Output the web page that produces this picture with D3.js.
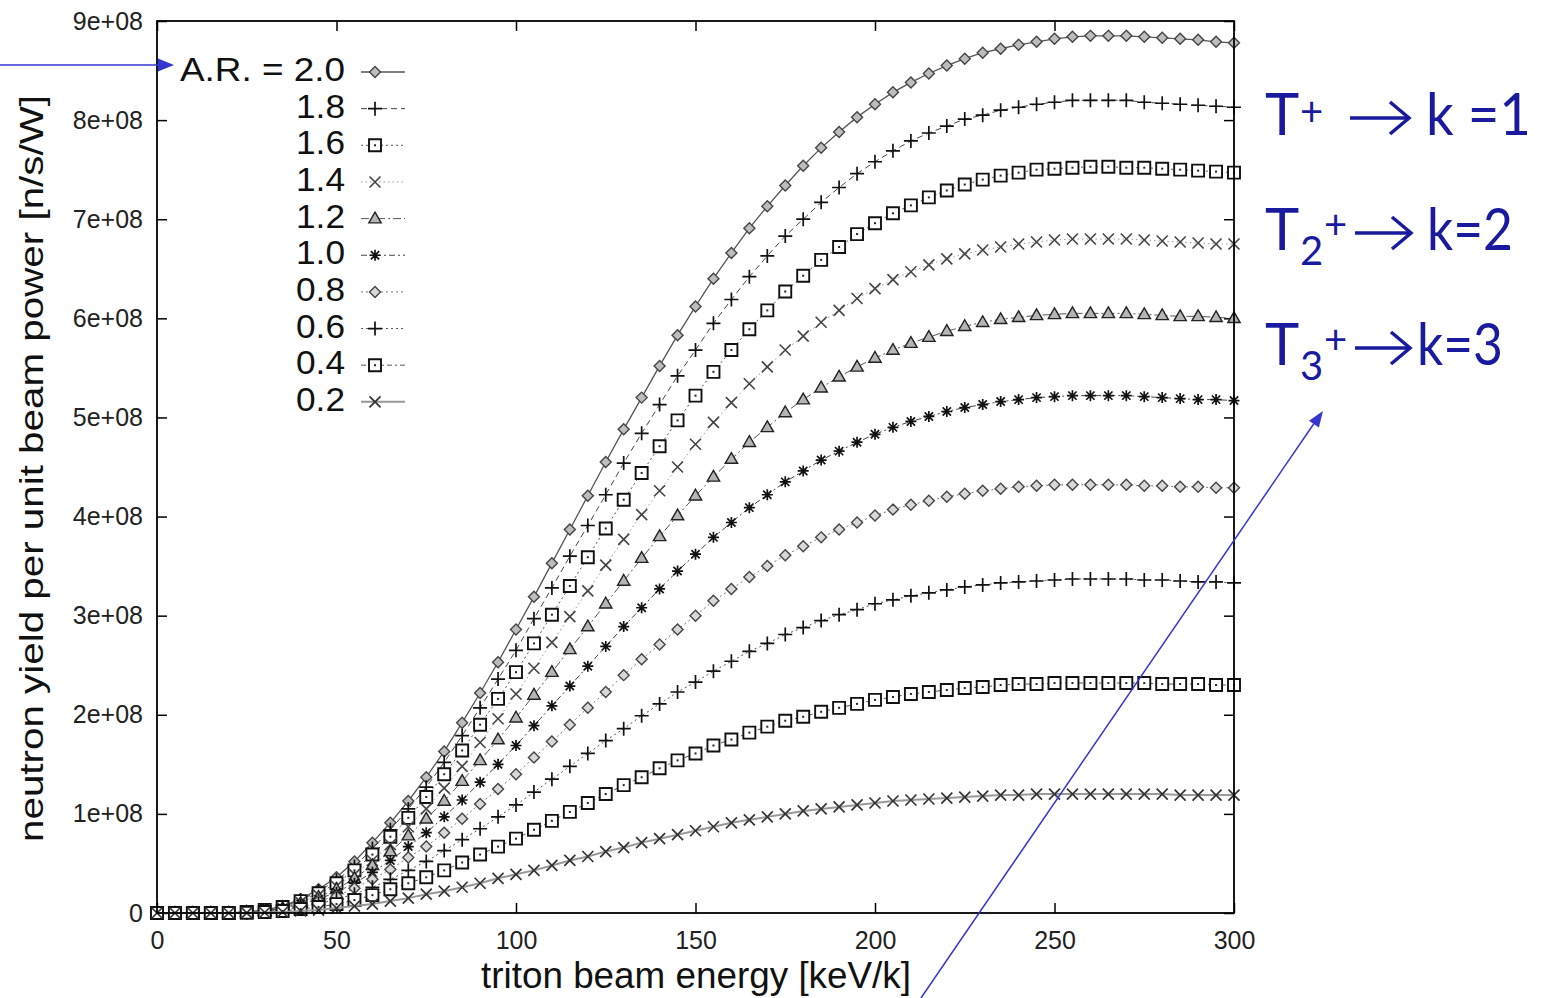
<!DOCTYPE html>
<html><head><meta charset="utf-8">
<script src="https://cdn.jsdelivr.net/npm/d3@7"></script>
<style>body{margin:0;background:#fff} svg{display:block}</style>
</head><body><svg id="c" width="1542" height="998"></svg>
<script>
// ---------- data (values in units of 1e+08 n/s/W) ----------
const energy = [0,5,10,15,20,25,30,35,40,45,50,55,60,65,70,75,80,85,90,95,100,105,110,115,120,125,130,135,140,145,150,155,160,165,170,175,180,185,190,195,200,205,210,215,220,225,230,235,240,245,250,255,260,265,270,275,280,285,290,295,300];
const y20 = [0,0,0,0,0,0.01,0.03,0.07,0.14,0.24,0.36,0.52,0.71,0.91,1.13,1.37,1.63,1.92,2.22,2.53,2.86,3.19,3.53,3.87,4.21,4.55,4.88,5.20,5.52,5.83,6.12,6.40,6.66,6.91,7.13,7.34,7.54,7.72,7.88,8.03,8.16,8.28,8.38,8.47,8.55,8.62,8.68,8.72,8.76,8.79,8.82,8.84,8.85,8.85,8.85,8.84,8.83,8.82,8.81,8.79,8.78];
const y18 = [0,0,0,0,0,0.01,0.03,0.06,0.13,0.22,0.33,0.47,0.65,0.84,1.05,1.27,1.52,1.79,2.07,2.36,2.65,2.97,3.28,3.60,3.91,4.22,4.54,4.84,5.13,5.42,5.68,5.95,6.19,6.42,6.63,6.83,7.00,7.17,7.32,7.46,7.58,7.69,7.79,7.87,7.94,8.01,8.05,8.10,8.13,8.16,8.18,8.20,8.20,8.20,8.20,8.18,8.17,8.16,8.15,8.14,8.13];
const y16 = [0,0,0,0,0,0.01,0.03,0.06,0.12,0.20,0.30,0.43,0.59,0.77,0.96,1.17,1.40,1.64,1.90,2.16,2.43,2.72,3.01,3.30,3.59,3.88,4.17,4.44,4.71,4.97,5.22,5.46,5.68,5.89,6.08,6.27,6.43,6.59,6.72,6.85,6.96,7.06,7.14,7.22,7.29,7.35,7.40,7.44,7.47,7.50,7.51,7.52,7.53,7.53,7.52,7.52,7.51,7.50,7.49,7.48,7.47];
const y14 = [0,0,0,0,0,0.01,0.03,0.05,0.11,0.18,0.27,0.39,0.53,0.69,0.87,1.05,1.26,1.48,1.72,1.96,2.21,2.47,2.73,2.99,3.25,3.51,3.77,4.02,4.26,4.50,4.73,4.95,5.15,5.34,5.51,5.68,5.82,5.96,6.08,6.20,6.30,6.39,6.47,6.54,6.60,6.65,6.69,6.72,6.75,6.77,6.79,6.80,6.80,6.80,6.80,6.79,6.78,6.77,6.76,6.75,6.75];
const y12 = [0,0,0,0,0,0.01,0.02,0.05,0.10,0.16,0.24,0.35,0.48,0.62,0.78,0.95,1.13,1.33,1.54,1.75,1.97,2.20,2.43,2.66,2.89,3.12,3.35,3.58,3.80,4.01,4.21,4.40,4.58,4.75,4.90,5.05,5.18,5.30,5.41,5.51,5.60,5.68,5.75,5.81,5.87,5.92,5.96,5.99,6.01,6.03,6.04,6.05,6.05,6.05,6.05,6.04,6.03,6.02,6.02,6.01,6.00];
const y10 = [0,0,0,0,0,0.005,0.02,0.04,0.09,0.14,0.21,0.30,0.41,0.53,0.67,0.81,0.97,1.14,1.32,1.50,1.69,1.89,2.09,2.29,2.49,2.69,2.89,3.08,3.27,3.45,3.62,3.79,3.94,4.09,4.22,4.35,4.46,4.57,4.66,4.75,4.83,4.90,4.96,5.01,5.06,5.10,5.13,5.16,5.18,5.20,5.21,5.22,5.22,5.22,5.22,5.21,5.20,5.19,5.18,5.18,5.17];
const y08 = [0,0,0,0,0,0.004,0.02,0.03,0.07,0.12,0.17,0.25,0.34,0.44,0.56,0.67,0.81,0.95,1.10,1.25,1.40,1.57,1.73,1.90,2.07,2.23,2.40,2.56,2.71,2.86,3.00,3.15,3.27,3.39,3.50,3.61,3.70,3.79,3.87,3.94,4.01,4.07,4.12,4.16,4.20,4.23,4.26,4.28,4.30,4.31,4.32,4.32,4.32,4.32,4.32,4.31,4.31,4.30,4.30,4.29,4.29];
const y06 = [0,0,0,0,0,0.003,0.01,0.03,0.06,0.09,0.14,0.19,0.26,0.34,0.43,0.52,0.63,0.74,0.85,0.97,1.09,1.22,1.35,1.48,1.61,1.74,1.86,1.99,2.11,2.23,2.33,2.44,2.54,2.64,2.72,2.81,2.88,2.95,3.01,3.06,3.12,3.16,3.20,3.23,3.26,3.29,3.31,3.33,3.34,3.35,3.36,3.37,3.37,3.37,3.37,3.36,3.36,3.35,3.34,3.34,3.33];
const y04 = [0,0,0,0,0,0.002,0.01,0.02,0.04,0.06,0.09,0.13,0.18,0.24,0.30,0.36,0.43,0.51,0.59,0.67,0.75,0.84,0.93,1.02,1.11,1.20,1.29,1.37,1.46,1.54,1.61,1.69,1.75,1.82,1.88,1.94,1.98,2.03,2.07,2.11,2.15,2.18,2.21,2.23,2.25,2.27,2.28,2.30,2.31,2.31,2.32,2.32,2.32,2.32,2.32,2.32,2.31,2.31,2.31,2.30,2.30];
const y02 = [0,0,0,0,0,0.001,0.005,0.01,0.02,0.03,0.05,0.07,0.09,0.12,0.15,0.19,0.22,0.26,0.30,0.35,0.39,0.43,0.48,0.53,0.57,0.62,0.66,0.71,0.75,0.79,0.83,0.87,0.91,0.94,0.97,1.00,1.03,1.05,1.07,1.09,1.11,1.13,1.14,1.15,1.16,1.17,1.18,1.19,1.19,1.20,1.20,1.20,1.20,1.20,1.20,1.20,1.20,1.19,1.19,1.19,1.19];
const arLabels = ["A.R. = 2.0","1.8","1.6","1.4","1.2","1.0","0.8","0.6","0.4","0.2"];
const yTicks = [0,1,2,3,4,5,6,7,8,9];
const xTicks = [0,50,100,150,200,250,300];
const xTitle = "triton beam energy [keV/k]";
const yTitle = "neutron yield per unit beam power [n/s/W]";

// ---------- setup ----------
const svg = d3.select("#c");
const x = d3.scaleLinear().domain([0,300]).range([157,1234]);
const y = d3.scaleLinear().domain([0,9]).range([913,21]);
const FONT = "'Liberation Sans', Arial, Helvetica, sans-serif";

const seriesData = [y20,y18,y16,y14,y12,y10,y08,y06,y04,y02];
const styles = [
  {m:"diamond", s:5.5, fill:"#bdbdbd", stroke:"#444", mw:1.4, line:"#555", dash:null, lw:1.3},
  {m:"plus", s:7, fill:"none", stroke:"#111", mw:1.7, line:"#444", dash:"6,4", lw:1},
  {m:"square", s:6, fill:"#fff", stroke:"#111", mw:1.9, line:"#555", dash:"2,3", lw:1},
  {m:"times", s:5.5, fill:"none", stroke:"#444", mw:1.6, line:"#999", dash:"1.5,3", lw:1},
  {m:"triangle", s:6.5, fill:"#b5b5b5", stroke:"#222", mw:1.4, line:"#555", dash:"8,3,2,3", lw:1},
  {m:"asterisk", s:5.5, fill:"none", stroke:"#111", mw:1.7, line:"#444", dash:"6,3,2,3", lw:1},
  {m:"diamond", s:5.5, fill:"#d8d8d8", stroke:"#444", mw:1.4, line:"#777", dash:"2,3", lw:1},
  {m:"plus", s:7, fill:"none", stroke:"#111", mw:1.7, line:"#555", dash:"2,3", lw:1},
  {m:"square", s:6, fill:"#fff", stroke:"#111", mw:1.9, line:"#555", dash:"5,3,2,3", lw:1},
  {m:"times", s:5.5, fill:"none", stroke:"#333", mw:1.7, line:"#999", dash:null, lw:2}
];

function markerPath(m, s){
  switch(m){
    case "diamond": return `M0,${-s}L${s},0L0,${s}L${-s},0Z`;
    case "plus": return `M${-s},0H${s}M0,${-s}V${s}`;
    case "square": return `M${-s},${-s}H${s}V${s}H${-s}Z`;
    case "times": return `M${-s},${-s}L${s},${s}M${-s},${s}L${s},${-s}`;
    case "triangle": return `M0,${-s}L${s*0.95},${s*0.65}L${-s*0.95},${s*0.65}Z`;
    case "asterisk": return `M${-s},0H${s}M0,${-s}V${s}M${-s*0.75},${-s*0.75}L${s*0.75},${s*0.75}M${-s*0.75},${s*0.75}L${s*0.75},${-s*0.75}`;
  }
}
function drawMarker(g, st, cx, cy){
  g.append("path").attr("d", markerPath(st.m, st.s))
    .attr("transform", `translate(${cx},${cy})`)
    .attr("fill", st.fill).attr("stroke", st.stroke).attr("stroke-width", st.mw);
  if (st.m === "square") {
    g.append("rect").attr("x", cx-1).attr("y", cy-1).attr("width", 2).attr("height", 2).attr("fill", "#222");
  }
}

// ---------- frame & axes ----------
const axL = svg.append("g").attr("transform","translate(157,0)")
  .call(d3.axisLeft(y).tickValues(yTicks).tickSize(-10).tickPadding(14)
    .tickFormat(d => d === 0 ? "0" : d + "e+08"));
const axR = svg.append("g").attr("transform","translate(1234,0)")
  .call(d3.axisRight(y).tickValues(yTicks).tickSize(-10).tickFormat(""));
const axB = svg.append("g").attr("transform","translate(0,913)")
  .call(d3.axisBottom(x).tickValues(xTicks).tickSize(-10).tickPadding(18));
const axT = svg.append("g").attr("transform","translate(0,21)")
  .call(d3.axisTop(x).tickValues(xTicks).tickSize(-10).tickFormat(""));
[axL,axR,axB,axT].forEach(a => {
  a.select(".domain").remove();
  a.selectAll(".tick line").attr("stroke","#000").attr("stroke-width",1.5);
  a.selectAll("text").attr("font-family",FONT).attr("font-size",25).attr("fill","#222");
});

// ---------- series ----------
const lineGen = d3.line().x((d,i) => x(energy[i])).y(d => y(d));
const plot = svg.append("g");
seriesData.forEach((vals, k) => {
  const st = styles[k];
  plot.append("path").datum(vals).attr("d", lineGen)
    .attr("fill","none").attr("stroke", st.line).attr("stroke-width", st.lw)
    .attr("stroke-dasharray", st.dash);
  const mg = plot.append("g");
  vals.forEach((v,i) => drawMarker(mg, st, x(energy[i]), y(v)));
});

svg.append("rect").attr("x",157).attr("y",21).attr("width",1234-157).attr("height",913-21)
  .attr("fill","none").attr("stroke","#000").attr("stroke-width",1.8);

// ---------- legend ----------
const lg = svg.append("g");
const ROW = 36.65;
arLabels.forEach((lab, k) => {
  const st = styles[k];
  const cy = 72 + k*ROW;
  lg.append("text").attr("x",345).attr("y",cy+9).attr("text-anchor","end")
    .attr("font-family",FONT).attr("font-size",32.5).attr("fill","#111")
    .attr("textLength", k === 0 ? 165 : 49).attr("lengthAdjust","spacingAndGlyphs")
    .text(lab);
  lg.append("line").attr("x1",361).attr("x2",405).attr("y1",cy).attr("y2",cy)
    .attr("stroke", st.line).attr("stroke-width", st.lw).attr("stroke-dasharray", st.dash);
  drawMarker(lg, st, 375, cy);
});

// ---------- titles ----------
svg.append("text").attr("x",481).attr("y",988).attr("font-family",FONT).attr("font-size",36)
  .attr("textLength",430).attr("lengthAdjust","spacingAndGlyphs").attr("fill","#111").text(xTitle);
svg.append("text").attr("transform","translate(43,842) rotate(-90)").attr("font-family",FONT).attr("font-size",34)
  .attr("textLength",747).attr("lengthAdjust","spacingAndGlyphs").attr("fill","#111").text(yTitle);

// ---------- blue annotations ----------
const BLUE = "#3535d0", NAVY = "#1a1a9e", TF = "Lato, 'Open Sans', sans-serif";
const ann = svg.append("g");
function arrowHead(tx, ty, dx, dy, len, hw){
  const n = Math.hypot(dx,dy), ux = dx/n, uy = dy/n;
  const bx = tx - ux*len, by = ty - uy*len;
  return `M${tx},${ty}L${bx - uy*hw},${by + ux*hw}L${bx + uy*hw},${by - ux*hw}Z`;
}
ann.append("line").attr("x1",0).attr("y1",65).attr("x2",162).attr("y2",65).attr("stroke",BLUE).attr("stroke-width",1.5);
ann.append("path").attr("d", arrowHead(174,65,1,0,16,6.5)).attr("fill",BLUE);
ann.append("line").attr("x1",921).attr("y1",998).attr("x2",1315).attr("y2",422).attr("stroke",BLUE).attr("stroke-width",1.5);
ann.append("path").attr("d", arrowHead(1323,411,397,-580,16,6)).attr("fill",BLUE);

function tArrow(x1, x2, yy){
  ann.append("line").attr("x1",x1).attr("x2",x2-2).attr("y1",yy).attr("y2",yy).attr("stroke",NAVY).attr("stroke-width",3.5);
  ann.append("path").attr("d",`M${x2-19},${yy-16}L${x2},${yy}L${x2-19},${yy+16}`)
    .attr("fill","none").attr("stroke",NAVY).attr("stroke-width",3.5);
}
function txt(s, xx, yy, size, tl){
  const t = ann.append("text").attr("x",xx).attr("y",yy).attr("font-family",TF).attr("font-size",size).attr("fill",NAVY).text(s);
  if (tl) t.attr("textLength",tl).attr("lengthAdjust","spacingAndGlyphs");
}
// row 1
txt("T",1265,135,58); txt("+",1300,126,40); tArrow(1350,1409,118); txt("k =1",1426,135,58,105);
// row 2
txt("T",1265,250,58); txt("2",1300,265,40); txt("+",1324,239,40); tArrow(1355,1411,233); txt("k=2",1427,250,58,86);
// row 3
txt("T",1265,365,58); txt("3",1300,380,40); txt("+",1324,354,40); tArrow(1355,1410,348); txt("k=3",1417,365,58,86);
</script></body></html>
